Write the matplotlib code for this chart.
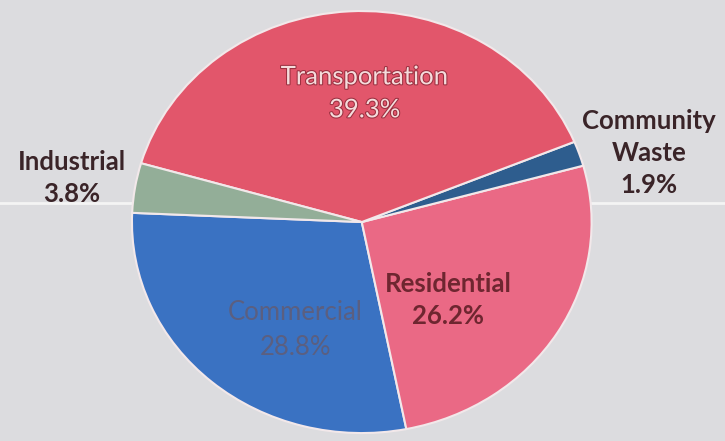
import matplotlib
matplotlib.use('Agg')
import matplotlib.pyplot as plt
import matplotlib.patheffects as pe

# sectors, counterclockwise from the left
sectors = ['Commercial', 'Residential', 'Community\nWaste', 'Transportation', 'Industrial']
shares = [28.8, 26.2, 1.9, 39.3, 3.8]
colours = ['#3a72c2', '#ea6985', '#2e5d8e', '#e2566b', '#93ae98']

plt.rcParams['font.family'] = ['Lato', 'DejaVu Sans']

fig = plt.figure(figsize=(7.25, 4.41), dpi=100)
fig.patch.set_facecolor('#dcdcdf')
# scanner streak across the page
fig.add_artist(plt.Line2D([0, 1], [0.54, 0.54], color='#f4f4f4', lw=2.0,
                          transform=fig.transFigure, zorder=0))

ax = fig.add_axes([0.182, 0.018, 0.634, 0.957])
wedges, _ = ax.pie(shares, colors=colours, startangle=177.5, counterclock=True,
                   radius=1.0,
                   wedgeprops=dict(edgecolor='#f2e8ea', linewidth=1.5))
ax.set_aspect('auto')
ax.set_xlim(-1, 1)
ax.set_ylim(-1, 1)
ax.set_facecolor('none')

fs = 18.5
ls = 1.4
# labels
ax.text(0.013, 0.61, 'Transportation\n39.3%', ha='center', va='center',
        fontsize=fs, color='#f5dcdc', linespacing=ls,
        path_effects=[pe.withStroke(linewidth=1.5, foreground='#9a3040')])
ax.text(1.25, 0.325, 'Community\nWaste\n1.9%', ha='center', va='center',
        fontsize=fs, fontweight='bold', color='#3a2428', linespacing=ls,
        clip_on=False)
ax.text(-1.26, 0.21, 'Industrial\n3.8%', ha='center', va='center',
        fontsize=fs, fontweight='bold', color='#3a2428', linespacing=ls,
        clip_on=False)
ax.text(0.375, -0.37, 'Residential\n26.2%', ha='center', va='center',
        fontsize=fs, fontweight='bold', color='#6e2630', linespacing=ls)
ax.text(-0.29, -0.51, 'Commercial\n28.8%', ha='center', va='center',
        fontsize=fs, color='#5b5f80', linespacing=1.5)

fig.savefig('out.png', dpi=100, facecolor=fig.get_facecolor())
